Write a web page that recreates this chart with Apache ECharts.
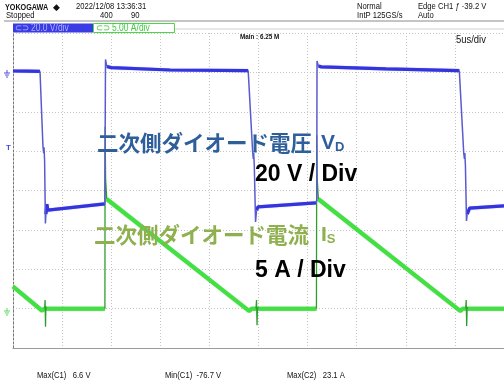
<!DOCTYPE html>
<html>
<head>
<meta charset="utf-8">
<script src="https://cdn.jsdelivr.net/npm/echarts@6/dist/echarts.min.js"></script>
<style>
  html, body { margin: 0; padding: 0; background: #ffffff; }
  #chart { width: 504px; height: 385px; }
</style>
</head>
<body>
<div id="chart"></div>
<script>
// Time base: 5 us/div, 10 divisions
const timeTicks = [0, 5, 10, 15, 20, 25, 30, 35, 40, 45, 50];

// Measured extremes shown in the measurement row
const vdMax = 6.6;     // Max(C1) [V]
const vdMin = -76.7;   // Min(C1) [V]
const isMax = 23.1;    // Max(C2) [A]

// Secondary diode voltage VD (CH1, 20 V/div): settled levels, one sub-array per segment
const vdLevelTime = [
  [0, 1.5, 2.75],
  [3.35, 3.45, 3.55, 3.7, 9.35],
  [9.55, 10.0, 16.0, 23.95],
  [24.8, 24.95, 30.85],
  [31.1, 31.4, 38.0, 45.45],
  [46.25, 46.5, 50.0]
];
const vdLevelVolt = [
  [0.7, 0.6, 0.5],
  [-72, -67, -70, -69.3, -66.8],
  [3.0, 2.4, 1.2, 0.9],
  [-70, -68.3, -66.3],
  [3.2, 2.8, 1.8, 0.9],
  [-72, -69, -67.8]
];
// VD switching edges with ringing
const vdEdgeTime = [
  [2.75, 3.05, 3.12, 3.16, 3.22, 3.3, 3.35],
  [9.35, 9.39, 9.42, 9.55],
  [23.95, 24.4, 24.47, 24.51, 24.57, 24.7, 24.8],
  [30.85, 30.93, 30.96, 31.1],
  [45.45, 45.9, 45.97, 46.01, 46.07, 46.18, 46.25]
];
const vdEdgeVolt = [
  [0.5, -37.5, -41, -38, -45, vdMin, -72],
  [-66.8, -66, vdMax, 3.0],
  [0.9, -40, -44, -41, -47, -76, -70],
  [-66.3, -65, 5.8, 3.2],
  [0.9, -41, -44, -41, -47, -75.5, -72]
];

// Secondary diode current IS (CH2, 5 A/div): ramps and zero levels
const isLevelTime = [
  [0, 2.95, 3.22],
  [3.38, 9.36],
  [9.55, 24.05, 24.3, 24.75],
  [24.95, 30.9],
  [31.1, 45.55, 45.8, 46.1],
  [46.3, 50.0]
];
const isLevelAmp = [
  [2.8, -0.25, 0],
  [0, 0],
  [13.9, -0.3, 0, 0],
  [0, 0],
  [13.9, -0.3, 0, 0],
  [0, 0]
];
// IS edges: reverse-recovery spikes and the turn-on peak
const isEdgeTime = [
  [3.22, 3.27, 3.31, 3.35, 3.38],
  [9.36, 9.38, 9.43, 9.55],
  [24.75, 24.8, 24.85, 24.9, 24.95],
  [30.9, 30.93, 30.98, 31.1],
  [46.1, 46.15, 46.2, 46.25, 46.3]
];
const isEdgeAmp = [
  [0, 1.1, -2.3, 0.3, 0],
  [0, isMax, 16.5, 13.9],
  [0, 1.1, -2.1, 0.2, 0],
  [0, 22.0, 16.5, 13.9],
  [0, 1.1, -2.2, 0.2, 0]
];

// Join segments into one series, separated by empty points
function joinSegments(times, values) {
  const out = [];
  times.forEach((seg, i) => {
    seg.forEach((t, j) => out.push([t, values[i][j]]));
    out.push([seg[seg.length - 1], '-']);
  });
  return out;
}

const chart = echarts.init(document.getElementById('chart'), null, { renderer: 'canvas' });

const hdrFont = '"Liberation Sans", Arial, sans-serif';
const cjkFont = '"Noto Sans CJK JP", "Noto Sans CJK SC", sans-serif';
const latFont = '"Liberation Sans", Arial, sans-serif';

function hdr(x, y, text, opts) {
  opts = opts || {};
  return {
    type: 'text', x: x, y: y, scaleX: opts.scaleX || 0.85, z: 100,
    style: {
      text: text, fill: opts.fill || '#111', font: (opts.weight || 'normal') + ' ' + (opts.size || 9) + 'px ' + hdrFont,
      textVerticalAlign: 'middle', textAlign: 'left'
    }
  };
}

function groundMark(x, y, color) {
  return {
    type: 'group', x: x, y: y, z: 100,
    children: [
      { type: 'line', shape: { x1: 3, y1: -3, x2: 3, y2: 0 }, style: { stroke: color, lineWidth: 1 } },
      { type: 'line', shape: { x1: 0, y1: 0, x2: 6, y2: 0 }, style: { stroke: color, lineWidth: 1 } },
      { type: 'line', shape: { x1: 1, y1: 2, x2: 5, y2: 2 }, style: { stroke: color, lineWidth: 1 } },
      { type: 'line', shape: { x1: 2, y1: 4, x2: 4, y2: 4 }, style: { stroke: color, lineWidth: 1 } }
    ]
  };
}

const option = {
  animation: false,
  backgroundColor: '#ffffff',
  grid: { left: 13, top: 33, right: 0, bottom: 37, containLabel: false },
  xAxis: {
    type: 'value', min: timeTicks[0], max: timeTicks[timeTicks.length - 1], interval: 5,
    axisLabel: { show: false }, axisTick: { show: false },
    axisLine: { show: true, onZero: false, lineStyle: { color: '#9a9a9a', width: 1 } },
    splitLine: { show: true, lineStyle: { color: '#c4c4c4', type: [1, 2], width: 1 } }
  },
  yAxis: [
    {
      type: 'value', min: -140, max: 20, interval: 20,
      axisLabel: { show: false }, axisTick: { show: false },
      axisLine: { show: true, onZero: false, lineStyle: { color: '#777', type: [2, 2], width: 1 } },
      splitLine: { show: true, lineStyle: { color: '#c4c4c4', type: [1, 2], width: 1 } }
    },
    {
      type: 'value', min: -5, max: 35, interval: 5, position: 'right',
      axisLabel: { show: false }, axisTick: { show: false }, axisLine: { show: false },
      splitLine: { show: false }
    }
  ],
  series: [
    {
      name: 'IS', type: 'line', yAxisIndex: 1, showSymbol: false, connectNulls: false, z: 2,
      data: joinSegments(isLevelTime, isLevelAmp),
      lineStyle: { color: '#3fe23f', width: 4, shadowColor: 'rgba(20,120,20,0.5)', shadowBlur: 1 }
    },
    {
      name: 'IS edge', type: 'line', yAxisIndex: 1, showSymbol: false, connectNulls: false, z: 3,
      data: joinSegments(isEdgeTime, isEdgeAmp),
      lineStyle: { color: '#2c9e2c', width: 1.3 }
    },
    {
      name: 'VD', type: 'line', yAxisIndex: 0, showSymbol: false, connectNulls: false, z: 4,
      data: joinSegments(vdLevelTime, vdLevelVolt),
      lineStyle: { color: '#3434dc', width: 3.2, shadowColor: 'rgba(90,90,255,0.6)', shadowBlur: 1 }
    },
    {
      name: 'VD edge', type: 'line', yAxisIndex: 0, showSymbol: false, connectNulls: false, z: 5,
      data: joinSegments(vdEdgeTime, vdEdgeVolt),
      lineStyle: { color: '#5a5ad0', width: 1.5 }
    }
  ],
  graphic: [
    // header
    hdr(5, 8, 'YOKOGAWA', { weight: 'bold', scaleX: 0.8 }),
    hdr(53, 8, '◆', { scaleX: 1 }),
    hdr(76, 7, '2022/12/08 13:36:31'),
    hdr(6, 16, 'Stopped'),
    hdr(100, 16, '400'),
    hdr(131, 16, '90'),
    hdr(357, 7, 'Normal'),
    hdr(357, 16, 'IntP 125GS/s'),
    hdr(418, 7, 'Edge CH1 ƒ -39.2 V'),
    hdr(418, 16, 'Auto'),
    { type: 'line', z: 90, shape: { x1: 4, y1: 21, x2: 504, y2: 21 }, style: { stroke: '#8a8a8a', lineWidth: 1 } },
    { type: 'line', z: 90, shape: { x1: 175, y1: 29, x2: 504, y2: 29 }, style: { stroke: '#d0d0d0', lineWidth: 1 } },
    { type: 'rect', z: 95, shape: { x: 13, y: 23.5, width: 80, height: 9 }, style: { fill: '#3b3be6' } },
    hdr(15, 28, '⊂⊃ 20.0 V/div', { fill: '#a9b4ff', size: 10 }),
    { type: 'rect', z: 95, shape: { x: 93.5, y: 23.5, width: 81, height: 9 }, style: { fill: '#ffffff', stroke: '#4ad84a', lineWidth: 1 } },
    hdr(96, 28, '⊂⊃ 5.00 A/div', { fill: '#3ccc3c', size: 10 }),
    hdr(240, 37.5, 'Main : 6.25 M', { weight: 'bold', size: 7, scaleX: 0.9 }),
    hdr(456, 40, '5us/div', { size: 10.5, scaleX: 0.9 }),
    // channel markers
    groundMark(4, 73, '#4a4ae0'),
    hdr(6, 148, 'T', { fill: '#4a4ae0', size: 8, weight: 'bold', scaleX: 1 }),
    groundMark(4, 311, '#5ad85a'),
    // measurements
    hdr(37, 376, 'Max(C1)   6.6 V'),
    hdr(165, 376, 'Min(C1)  -76.7 V'),
    hdr(287, 376, 'Max(C2)   23.1 A'),
    // annotations
    {
      type: 'text', x: 97, y: 143, z: 60,
      style: {
        text: '{j|二次側ダイオード電圧}{v|V}{s|D}',
        textVerticalAlign: 'middle',
        rich: {
          j: { font: 'bold 21.5px ' + cjkFont, fill: '#2f5f9a' },
          v: { font: 'bold 21px ' + latFont, fill: '#2f5f9a', padding: [0, 0, 0, 9] },
          s: { font: 'bold 13px ' + latFont, fill: '#2f5f9a', padding: [8, 0, 0, 0] }
        }
      }
    },
    {
      type: 'text', x: 255, y: 175, z: 60,
      style: { text: '20 V / Div', font: 'bold 23px ' + latFont, fill: '#000', textVerticalAlign: 'middle' }
    },
    {
      type: 'text', x: 94, y: 235, z: 60,
      style: {
        text: '{j|二次側ダイオード電流}{v|I}{s|S}',
        textVerticalAlign: 'middle',
        rich: {
          j: { font: 'bold 21.5px ' + cjkFont, fill: '#8fb04f' },
          v: { font: 'bold 21px ' + latFont, fill: '#8fb04f', padding: [0, 0, 0, 12] },
          s: { font: 'bold 13px ' + latFont, fill: '#8fb04f', padding: [8, 0, 0, 0] }
        }
      }
    },
    {
      type: 'text', x: 255, y: 271, z: 60,
      style: { text: '5 A / Div', font: 'bold 23px ' + latFont, fill: '#000', textVerticalAlign: 'middle' }
    }
  ]
};

chart.setOption(option);
</script>
</body>
</html>
